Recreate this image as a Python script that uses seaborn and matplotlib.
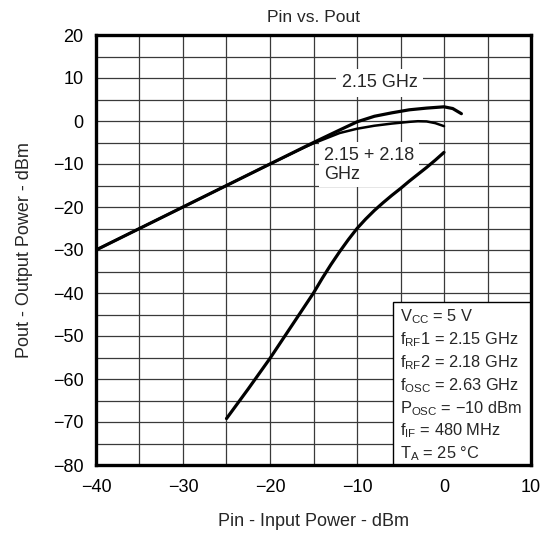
import matplotlib
matplotlib.use("Agg")
import matplotlib.pyplot as plt
import seaborn as sns
import pandas as pd
from matplotlib.patches import Rectangle

# ---- data ----
pin_single = [-40, -30, -20, -15, -12, -10, -8, -6, -4, -2, 0, 1, 2]
pout_single = [-30, -20, -10, -5.0, -2.1, -0.2, 1.1, 1.9, 2.6, 3.0, 3.3, 2.9, 1.7]

pin_two = [-40, -30, -20, -16, -15, -12, -10, -8, -6, -4, -3, -2, -1, 0]
pout_two = [-30, -20, -10, -6.1, -5.2, -2.8, -1.8, -1.1, -0.6, -0.2, -0.05, -0.1, -0.5, -1.2]

pin_im3 = [-25, -22.5, -20, -17.5, -15, -14, -13, -12, -11, -10, -9, -8, -7, -6, -5,
           -4, -3, -2, -1, 0]
pout_im3 = [-69.2, -62.3, -55.2, -47.6, -40, -36.6, -33.4, -30.4, -27.6, -25, -22.8,
            -20.8, -19.0, -17.3, -15.7, -14.0, -12.4, -10.8, -9.1, -7.3]

x_ticks = [-40, -30, -20, -10, 0, 10]
y_ticks = [20, 10, 0, -10, -20, -30, -40, -50, -60, -70, -80]

title = "Pin vs. Pout"
x_label = "Pin - Input Power - dBm"
y_label = "Pout - Output Power - dBm"
label_single = "2.15 GHz"
label_two = "2.15 + 2.18\nGHz"
cond_lines = [
    r"V$_{\rm CC}$ = 5 V",
    r"f$_{\rm RF}$1 = 2.15 GHz",
    r"f$_{\rm RF}$2 = 2.18 GHz",
    r"f$_{\rm OSC}$ = 2.63 GHz",
    r"P$_{\rm OSC}$ = −10 dBm",
    r"f$_{\rm IF}$ = 480 MHz",
    r"T$_{\rm A}$ = 25 °C",
]

# ---- style ----
sns.set_style("white")
plt.rcParams["font.family"] = ["Liberation Sans", "DejaVu Sans"]
plt.rcParams["mathtext.fontset"] = "custom"
plt.rcParams["mathtext.rm"] = "Liberation Sans"
plt.rcParams["mathtext.it"] = "Liberation Sans:italic"
plt.rcParams["mathtext.bf"] = "Liberation Sans:bold"

fig = plt.figure(figsize=(5.51, 5.34), dpi=100)
ax = fig.add_axes([96 / 551, 1 - 465 / 534, (531 - 96) / 551, (465 - 35) / 534])

df1 = pd.DataFrame({"x": pin_single, "y": pout_single})
df2 = pd.DataFrame({"x": pin_two, "y": pout_two})
df3 = pd.DataFrame({"x": pin_im3, "y": pout_im3})
sns.lineplot(data=df1, x="x", y="y", ax=ax, color="black", lw=2.3, estimator=None, zorder=5)
sns.lineplot(data=df2, x="x", y="y", ax=ax, color="black", lw=1.8, estimator=None, zorder=5)
sns.lineplot(data=df3, x="x", y="y", ax=ax, color="black", lw=2.3, estimator=None, zorder=5)

ax.set_xlim(-40, 10)
ax.set_ylim(-80, 20)
ax.set_xticks(x_ticks)
ax.set_yticks(y_ticks)
ax.set_xticks([v for v in range(-35, 10, 10)], minor=True)
ax.set_yticks([v for v in range(-75, 20, 10)], minor=True)
ax.set_axisbelow(True)
ax.grid(True, which="both", color="#3a3a3a", lw=0.9)
ax.tick_params(which="both", length=0, labelsize=13, colors="black")
ax.tick_params(axis="x", pad=10)
ax.tick_params(axis="y", pad=9)
for s in ax.spines.values():
    s.set_visible(True)
    s.set_color("black")
    s.set_linewidth(2.4)
    s.set_zorder(6)

ax.set_xlabel(x_label, fontsize=13, labelpad=12)
ax.set_ylabel(y_label, fontsize=13, labelpad=14)
ax.set_title(title, fontsize=12.5, pad=9)

# curve labels
ax.text(-7.4, 8.9, label_single, fontsize=13, ha="center", va="center", zorder=4,
        bbox=dict(boxstyle="square,pad=0.3", fc="white", ec="none"))
ax.text(-13.8, -10.2, label_two, fontsize=13, ha="left", va="center", zorder=4,
        linespacing=1.15,
        bbox=dict(boxstyle="square,pad=0.25", fc="white", ec="none"))

# conditions box
rect = Rectangle((-5.85, -80), 15.85, 38.0, facecolor="white", edgecolor="black",
                 lw=1.0, zorder=3)
ax.add_patch(rect)
for i, t in enumerate(cond_lines):
    ax.text(-5.1, -45.6 - i * 5.3, t, fontsize=11.8, ha="left", va="center", zorder=4)

fig.savefig("out.png", dpi=100)
